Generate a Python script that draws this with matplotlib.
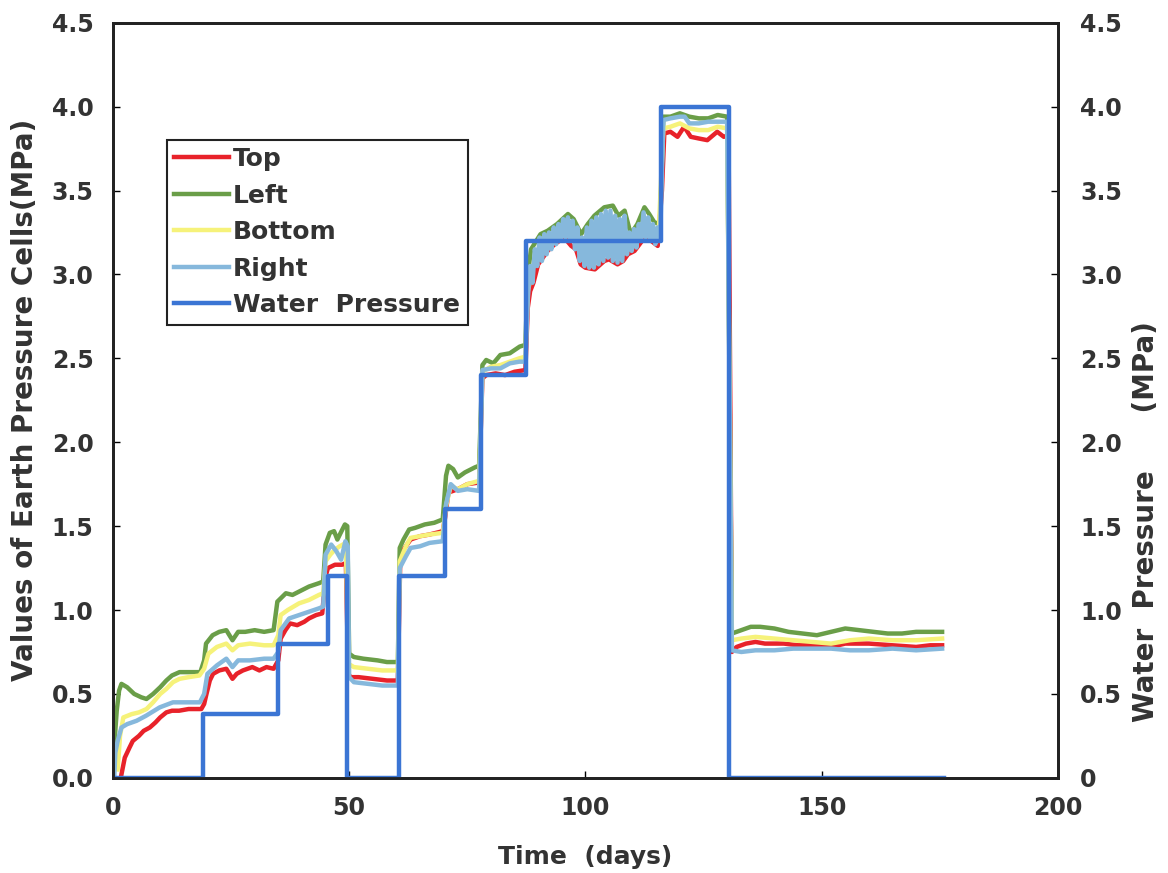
import matplotlib
matplotlib.use("Agg")
import matplotlib.pyplot as plt

# Earth pressure cells (MPa) vs time (days)
top_t = [1.8, 2.5, 3.5, 4.2, 5.5, 6.5, 7.8, 9, 10, 11.3, 12.5, 14, 16, 18.7, 19.3, 19.8, 20.5, 21.2,
         22.5, 24, 25.3, 26.2, 27.5, 29.5, 31, 32.5, 34, 35, 35.5, 36.5, 37.5, 39, 40.5, 41.5, 43, 44.3,
         45, 45.5, 47, 48.5, 49.3, 49.8, 50.3, 52, 55, 58, 60.3, 60.8, 61.5, 63, 65, 67, 69.8, 70.3,
         71, 73, 75, 77.5, 78.2, 79, 81, 83, 85, 87.3, 87.8, 88.3, 89, 90, 91, 92, 93.5, 95.5, 97, 98,
         99, 100, 102, 104, 105, 106.8, 108, 109, 110.4, 112, 113, 115.3, 116.2, 116.7, 118, 119.5,
         120.9, 122.3, 124, 125.8, 127.9, 129.3, 130.3, 131, 132, 134, 136, 138, 142, 145, 148, 152,
         155, 160, 165, 170, 173, 175.5]
top_v = [0.02, 0.12, 0.18, 0.22, 0.25, 0.28, 0.30, 0.33, 0.36, 0.39, 0.40, 0.40, 0.41, 0.41, 0.44,
         0.50, 0.58, 0.62, 0.64, 0.65, 0.59, 0.62, 0.64, 0.66, 0.64, 0.66, 0.65, 0.70, 0.83, 0.88,
         0.92, 0.91, 0.93, 0.95, 0.97, 0.98, 1.20, 1.25, 1.27, 1.27, 1.28, 0.62, 0.60, 0.60, 0.59,
         0.58, 0.58, 1.28, 1.36, 1.42, 1.44, 1.45, 1.47, 1.55, 1.70, 1.72, 1.75, 1.76, 2.38, 2.40,
         2.41, 2.40, 2.42, 2.43, 2.80, 2.90, 2.95, 3.06, 3.10, 3.14, 3.18, 3.22, 3.17, 3.15, 3.06,
         3.04, 3.03, 3.08, 3.09, 3.06, 3.08, 3.12, 3.14, 3.20, 3.22, 3.17, 3.50, 3.84, 3.85, 3.82,
         3.88, 3.82, 3.81, 3.80, 3.85, 3.82, 3.83, 0.75, 0.78, 0.80, 0.81, 0.80, 0.80, 0.79, 0.79,
         0.78, 0.80, 0.80, 0.79, 0.78, 0.79, 0.79]

left_t = [0.3, 0.8, 1.3, 1.8, 3, 4.5, 6, 7.1, 8.5, 10, 11.3, 12.5, 14.1, 16, 18.5, 19.3, 19.7, 21.1,
          22.5, 24, 25.3, 26.5, 28, 30, 32, 34, 34.8, 36.6, 38, 39.4, 41.5, 43.6, 44.5, 45, 45.9, 46.8,
          47.5, 48.2, 49.1, 49.6, 50, 51, 53, 56, 58, 60.3, 60.7, 61.5, 62.7, 64, 66, 68, 69.8, 70.5,
          71, 72, 73, 74.5, 76.6, 77.5, 78.2, 79, 80.5, 82, 84, 86.1, 87.3, 87.8, 88.5, 90.5, 92, 94,
          96.3, 97.5, 99.1, 100.5, 101.9, 104, 105.8, 107, 108.3, 109.6, 111, 112.5, 113.5, 114.6,
          115.8, 116.5, 118, 120, 122, 124, 126, 128, 130, 131, 133, 135, 137, 140, 143, 146, 149,
          152, 155, 158, 161, 164, 167, 170, 173, 175.5]
left_v = [0.20, 0.40, 0.52, 0.56, 0.54, 0.50, 0.48, 0.47, 0.50, 0.54, 0.58, 0.61, 0.63, 0.63, 0.63,
          0.70, 0.80, 0.85, 0.87, 0.88, 0.82, 0.87, 0.87, 0.88, 0.87, 0.88, 1.05, 1.10, 1.09, 1.11,
          1.14, 1.16, 1.17, 1.39, 1.46, 1.47, 1.42, 1.46, 1.51, 1.50, 0.74, 0.72, 0.71, 0.70, 0.69,
          0.69, 1.37, 1.42, 1.48, 1.49, 1.51, 1.52, 1.54, 1.80, 1.86, 1.84, 1.79, 1.82, 1.85, 1.86,
          2.46, 2.49, 2.47, 2.52, 2.53, 2.57, 2.58, 3.00, 3.15, 3.24, 3.26, 3.30, 3.36, 3.33, 3.24,
          3.30, 3.35, 3.40, 3.41, 3.35, 3.38, 3.24, 3.30, 3.40, 3.36, 3.31, 3.30, 3.94, 3.94, 3.96,
          3.94, 3.93, 3.93, 3.95, 3.94, 0.86, 0.88, 0.90, 0.90, 0.89, 0.87, 0.86, 0.85, 0.87, 0.89,
          0.88, 0.87, 0.86, 0.86, 0.87, 0.87, 0.87]

bottom_t = [1.0, 1.5, 2.2, 4, 5.5, 7.1, 8.5, 10, 11.3, 12.7, 14.1, 16, 18.3, 19.3, 20.2, 22, 24, 25.3,
            26.5, 29, 32, 34, 35, 35.5, 37, 39.4, 41.5, 43.6, 44.5, 45, 46, 47, 48, 49.3, 49.8, 51,
            54, 57, 60.3, 60.7, 62, 63, 65, 67, 69.8, 70.5, 71.5, 73, 75, 77.5, 78.2, 80, 82, 84, 86,
            87.3, 87.8, 89, 91, 93.5, 95.5, 97, 99, 101, 103, 105, 107, 109, 110.5, 112.5, 114, 115.5,
            116.5, 118, 120, 122, 124, 126, 128, 130, 131, 133, 136, 140, 144, 148, 152, 156, 160,
            165, 170, 175.5]
bottom_v = [0.05, 0.25, 0.36, 0.38, 0.39, 0.41, 0.45, 0.50, 0.53, 0.57, 0.59, 0.60, 0.61, 0.65, 0.74,
            0.78, 0.80, 0.76, 0.79, 0.80, 0.79, 0.79, 0.85, 0.97, 1.00, 1.04, 1.06, 1.09, 1.10, 1.29,
            1.33, 1.36, 1.38, 1.40, 0.68, 0.66, 0.65, 0.64, 0.64, 1.29, 1.38, 1.43, 1.44, 1.45, 1.46,
            1.62, 1.74, 1.72, 1.75, 1.77, 2.42, 2.45, 2.46, 2.48, 2.50, 2.51, 2.90, 3.05, 3.16, 3.22,
            3.27, 3.22, 3.18, 3.20, 3.25, 3.27, 3.22, 3.18, 3.20, 3.28, 3.25, 3.24, 3.87, 3.88, 3.90,
            3.87, 3.86, 3.86, 3.88, 3.87, 0.82, 0.83, 0.84, 0.83, 0.82, 0.81, 0.80, 0.82, 0.83, 0.82,
            0.82, 0.83]

right_t = [0.3, 0.5, 1.0, 1.8, 3, 5, 7, 9.9, 12.7, 15, 18.4, 19.3, 20, 22, 24, 25.3, 26.5, 29, 32, 34,
           35, 35.5, 37.3, 39.4, 41.5, 43.6, 44.5, 45, 46.2, 47.3, 48.3, 49.2, 49.7, 50, 51, 54, 57,
           60.3, 60.7, 62, 63, 65, 67, 69.8, 70.5, 71.5, 73, 75, 77.5, 78.2, 80, 82, 84, 86, 87.3,
           87.8, 88.3, 88.8, 89.3, 89.8, 90.3, 90.8, 91.3, 91.8, 92.3, 92.8, 93.3, 93.8, 94.3, 94.8,
           95.3, 95.8, 96.3, 96.8, 97.3, 97.8, 98.3, 98.8, 99.3, 99.8, 100.3, 100.8, 101.3, 101.8,
           102.3, 102.8, 103.3, 103.8, 104.3, 104.8, 105.3, 105.8, 106.3, 106.8, 107.3, 107.8, 108.3,
           108.8, 109.3, 109.8, 110.3, 110.8, 111.3, 111.8, 112.3, 112.8, 113.3, 113.8, 114.3, 114.8,
           115.3, 115.8, 116.5, 118, 120, 121, 122, 124, 126, 128, 130, 131, 133, 136, 140, 144, 148,
           152, 156, 160, 165, 170, 175.5]
right_v = [0.02, 0.15, 0.22, 0.30, 0.32, 0.34, 0.37, 0.42, 0.45, 0.45, 0.45, 0.50, 0.62, 0.67, 0.71,
           0.66, 0.70, 0.70, 0.71, 0.71, 0.75, 0.88, 0.95, 0.97, 0.99, 1.01, 1.02, 1.33, 1.39, 1.35,
           1.30, 1.41, 1.38, 0.60, 0.57, 0.56, 0.55, 0.55, 1.25, 1.32, 1.37, 1.38, 1.40, 1.41, 1.63,
           1.75, 1.71, 1.72, 1.71, 2.43, 2.44, 2.44, 2.47, 2.48, 2.48,
           2.85, 3.05, 2.95, 3.15, 3.05, 3.22, 3.08, 3.24, 3.12, 3.25, 3.15, 3.28, 3.18, 3.30, 3.20,
           3.33, 3.22, 3.34, 3.20, 3.32, 3.15, 3.28, 3.08, 3.22, 3.05, 3.28, 3.04, 3.32, 3.04, 3.34,
           3.06, 3.36, 3.08, 3.38, 3.10, 3.38, 3.08, 3.35, 3.07, 3.33, 3.08, 3.35, 3.12, 3.25, 3.14,
           3.27, 3.16, 3.30, 3.20, 3.37, 3.22, 3.34, 3.20, 3.30, 3.18, 3.28, 3.20,
           3.92, 3.93, 3.94, 3.94, 3.90, 3.90, 3.91, 3.91, 3.91, 0.76, 0.75, 0.76, 0.76, 0.77, 0.77,
           0.77, 0.76, 0.76, 0.77, 0.76, 0.77]

# Water pressure steps (MPa): value holds from each time until the next
water_t = [0, 19, 35, 45.5, 49.6, 60.5, 70.2, 78, 87.5, 116, 130.3, 175.8]
water_v = [0, 0.38, 0.8, 1.2, 0, 1.2, 1.6, 2.4, 3.2, 4.0, 0, 0]

txt = '#333333'
plt.rcParams['font.family'] = 'DejaVu Sans'
plt.rcParams['font.weight'] = 'bold'

fig = plt.figure(figsize=(11.68, 8.73), dpi=100)
ax = fig.add_axes([0.0967, 0.109, 0.809, 0.865])

lw = 3.2
ax.plot(top_t, top_v, color='#e8222a', lw=lw, label='Top')
ax.plot(left_t, left_v, color='#6a9e48', lw=lw, label='Left')
ax.plot(bottom_t, bottom_v, color='#f6f27a', lw=lw, label='Bottom')
ax.plot(right_t, right_v, color='#86b8dc', lw=lw, label='Right')

ax2 = ax.twinx()
ax2.plot(water_t, water_v, color='#3b75d4', lw=3.2, drawstyle='steps-post', label='Water  Pressure')

ax.set_xlim(0, 200)
ax.set_ylim(0, 4.5)
ax2.set_ylim(0, 4.5)
ax.set_xticks([0, 50, 100, 150, 200])
ax.set_yticks([0, 0.5, 1, 1.5, 2, 2.5, 3, 3.5, 4, 4.5])
ax.set_yticklabels(['0.0', '0.5', '1.0', '1.5', '2.0', '2.5', '3.0', '3.5', '4.0', '4.5'])
ax2.set_yticks([0, 0.5, 1, 1.5, 2, 2.5, 3, 3.5, 4, 4.5])
ax2.set_yticklabels(['0', '0.5', '1.0', '1.5', '2.0', '2.5', '3.0', '3.5', '4.0', '4.5'])

ax.tick_params(axis='x', direction='in', length=5, width=1, pad=13, labelsize=17, labelcolor=txt)
ax.tick_params(axis='y', direction='in', length=5, width=1, pad=14, labelsize=17, labelcolor=txt)
ax2.tick_params(axis='y', direction='in', length=5, width=1, pad=16, labelsize=17, labelcolor=txt)

for a in (ax, ax2):
    for s in a.spines.values():
        s.set_linewidth(2)
        s.set_color('#222222')

ax.set_xlabel('Time  (days)', fontsize=18, fontweight='bold', color=txt, labelpad=18)
ax.set_ylabel('Values of Earth Pressure Cells(MPa)', fontsize=20, fontweight='bold', color=txt)
ax.yaxis.set_label_coords(-0.078, 0.5)
ax2.set_ylabel('Water  Pressure      (MPa)', fontsize=20, fontweight='bold', color=txt, rotation=90)
ax2.yaxis.set_label_coords(1.078, 0.34)

h1, l1 = ax.get_legend_handles_labels()
h2, l2 = ax2.get_legend_handles_labels()
leg = ax2.legend(h1 + h2, l1 + l2, loc='upper left', bbox_to_anchor=(0.057, 0.845),
                 borderaxespad=0, fontsize=18, handlelength=2.2, handletextpad=0.15,
                 labelspacing=0.5, borderpad=0.3, fancybox=False, framealpha=1,
                 edgecolor='#222222')
leg.get_frame().set_linewidth(1.5)
for t in leg.get_texts():
    t.set_color(txt)

fig.savefig('out.png', dpi=100)
